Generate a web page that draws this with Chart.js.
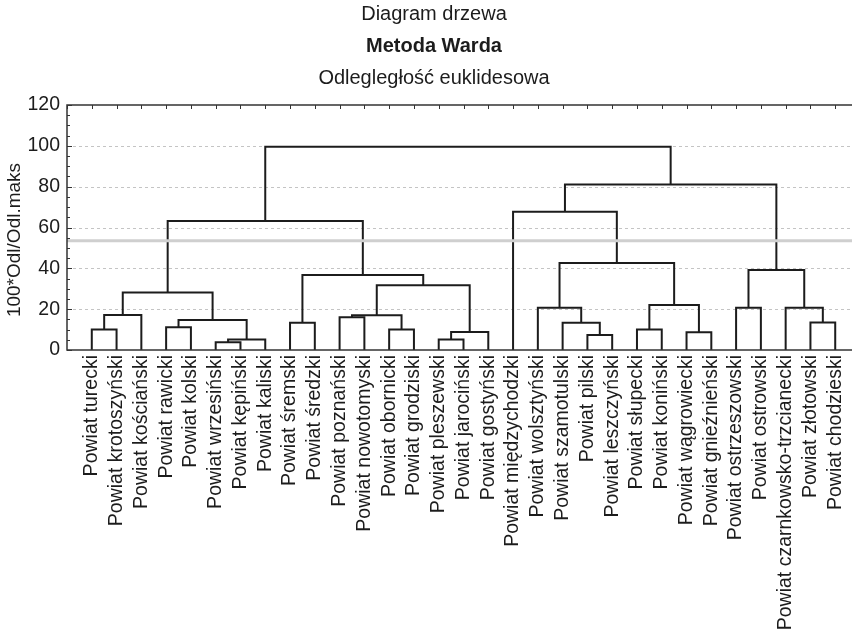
<!DOCTYPE html>
<html>
<head>
<meta charset="utf-8">
<script src="https://cdn.jsdelivr.net/npm/chart.js@4.4.1/dist/chart.umd.min.js"></script>
<style>
  html, body { margin: 0; padding: 0; background: #fff; overflow: hidden; }
</style>
</head>
<body>
<canvas id="tree" width="862" height="634"></canvas>
<script>
// ==========================================
// DATA
// ==========================================
// leaves in the order they appear along the axis
const leafNames = [
    'Powiat turecki', 'Powiat krotoszyński', 'Powiat kościański', 'Powiat rawicki',
    'Powiat kolski', 'Powiat wrzesiński', 'Powiat kępiński', 'Powiat kaliski',
    'Powiat śremski', 'Powiat średzki', 'Powiat poznański', 'Powiat nowotomyski',
    'Powiat obornicki', 'Powiat grodziski', 'Powiat pleszewski', 'Powiat jarociński',
    'Powiat gostyński', 'Powiat międzychodzki', 'Powiat wolsztyński', 'Powiat szamotulski',
    'Powiat pilski', 'Powiat leszczyński', 'Powiat słupecki', 'Powiat koniński',
    'Powiat wągrowiecki', 'Powiat gnieźnieński', 'Powiat ostrzeszowski', 'Powiat ostrowski',
    'Powiat czarnkowsko-trzcianecki', 'Powiat złotowski', 'Powiat chodzieski'
];

// merge steps: ids 0..30 are leaves, 31+k is the cluster formed at step k
const mergeLeft   = [5, 31, 14, 20, 24, 33, 0, 12, 22, 3, 19, 8, 29, 40, 10, 45, 37, 18, 26, 28, 39, 47, 46, 42, 49, 48, 52, 17, 58, 57];
const mergeRight  = [6, 7, 15, 21, 25, 16, 1, 13, 23, 4, 34, 9, 30, 32, 11, 38, 2, 41, 27, 43, 35, 44, 36, 53, 50, 51, 54, 56, 55, 59];
const mergeHeight = [3.8, 5.2, 5.2, 7.3, 8.7, 8.8, 10.1, 10.1, 10.1, 11.1, 13.4, 13.4, 13.5, 14.7, 16.0, 17.0, 17.1,
                     20.7, 20.7, 20.7, 22.0, 28.2, 31.7, 36.7, 39.2, 42.6, 63.2, 67.7, 81.1, 99.6];

const cutLevel = 53.5;
const gridLevels = [20, 40, 60, 80, 100];
const titleLines = ['Diagram drzewa', 'Metoda Warda', 'Odlegległość euklidesowa'];
const yTitle = '100*Odl/Odl.maks';

const FONT = '"Liberation Sans", Arial, Helvetica, sans-serif';
const INK = '#1c1c1c';

// ==========================================
// BUILD BRACKETS FROM THE MERGES
// ==========================================
const nLeaf = leafNames.length;
const nodeX = leafNames.map((_, i) => i);
const nodeH = leafNames.map(() => 0);
const brackets = [];
mergeLeft.forEach((a, k) => {
    const b = mergeRight[k], h = mergeHeight[k];
    brackets.push([
        { x: nodeX[a], y: nodeH[a] }, { x: nodeX[a], y: h },
        { x: nodeX[b], y: h }, { x: nodeX[b], y: nodeH[b] }
    ]);
    nodeX.push((nodeX[a] + nodeX[b]) / 2);
    nodeH.push(h);
});

const datasets = brackets.map(pts => ({
    data: pts, borderColor: INK, borderWidth: 2, pointRadius: 0,
    tension: 0, fill: false, borderJoinStyle: 'miter', order: 1
}));
datasets.push({
    data: [{ x: -1, y: cutLevel }, { x: nLeaf, y: cutLevel }],
    borderColor: '#cfcfcf', borderWidth: 3, pointRadius: 0, fill: false, order: 0
});

// ==========================================
// FRAME, GRID, TICKS AND TITLES
// ==========================================
const framePlugin = {
    id: 'frame',
    beforeDatasetsDraw(chart) {
        const { ctx, chartArea: a, scales: { y } } = chart;
        ctx.save();
        ctx.strokeStyle = '#c4c4c4';
        ctx.lineWidth = 1;
        ctx.setLineDash([3, 3]);
        gridLevels.forEach(v => {
            const py = Math.round(y.getPixelForValue(v)) + 0.5;
            ctx.beginPath(); ctx.moveTo(a.left, py); ctx.lineTo(a.right, py); ctx.stroke();
        });
        ctx.restore();
    },
    afterDatasetsDraw(chart) {
        const { ctx, chartArea: a, scales: { x, y } } = chart;
        ctx.save();
        ctx.strokeStyle = '#333';
        ctx.lineWidth = 1.5;
        ctx.strokeRect(a.left, a.top, a.right - a.left, a.bottom - a.top);
        ctx.lineWidth = 1;
        ctx.beginPath();
        for (let v = 0; v <= 120; v += 5) {
            const py = Math.round(y.getPixelForValue(v)) + 0.5;
            const len = v % 20 === 0 ? 5 : 3;
            ctx.moveTo(a.left, py); ctx.lineTo(a.left + len, py);
            ctx.moveTo(a.right, py); ctx.lineTo(a.right - len, py);
        }
        for (let i = -1; i <= nLeaf; i++) {
            const px = Math.round(x.getPixelForValue(i)) + 0.5;
            ctx.moveTo(px, a.top); ctx.lineTo(px, a.top + 4);
        }
        ctx.stroke();
        ctx.restore();
    },
    afterDraw(chart) {
        const { ctx } = chart;
        ctx.save();
        ctx.fillStyle = INK;
        ctx.textAlign = 'center';
        ctx.textBaseline = 'middle';
        const ys = [14, 46, 78];
        titleLines.forEach((t, i) => {
            ctx.font = (i === 1 ? 'bold ' : '') + '20px ' + FONT;
            ctx.fillText(t, 434, ys[i]);
        });
        // axis title, rotated
        ctx.translate(15, 240);
        ctx.rotate(-Math.PI / 2);
        ctx.font = '19px ' + FONT;
        ctx.fillText(yTitle, 0, 0);
        ctx.restore();
    }
};

// ==========================================
// CHART
// ==========================================
new Chart(document.getElementById('tree').getContext('2d'), {
    type: 'line',
    data: { datasets },
    options: {
        responsive: false,
        animation: false,
        layout: { padding: { top: 105, left: 0, right: 2, bottom: 0 } },
        plugins: { legend: { display: false }, tooltip: { enabled: false } },
        scales: {
            x: {
                type: 'linear', min: -1, max: nLeaf,
                grid: { display: false, drawTicks: false }, border: { display: false },
                ticks: {
                    stepSize: 1, autoSkip: false, maxRotation: 90, minRotation: 90,
                    padding: 5, color: INK, font: { size: 19.5, family: FONT },
                    callback: v => leafNames[v] ?? ''
                },
                afterFit: s => { s.height = 284; s.paddingLeft = 0; s.paddingRight = 0; }
            },
            y: {
                min: 0, max: 120,
                grid: { display: false, drawTicks: false }, border: { display: false },
                ticks: { stepSize: 20, padding: 7, color: INK, font: { size: 19.5, family: FONT } },
                afterFit: s => { s.width = 67; }
            }
        }
    },
    plugins: [framePlugin]
});
</script>
</body>
</html>
